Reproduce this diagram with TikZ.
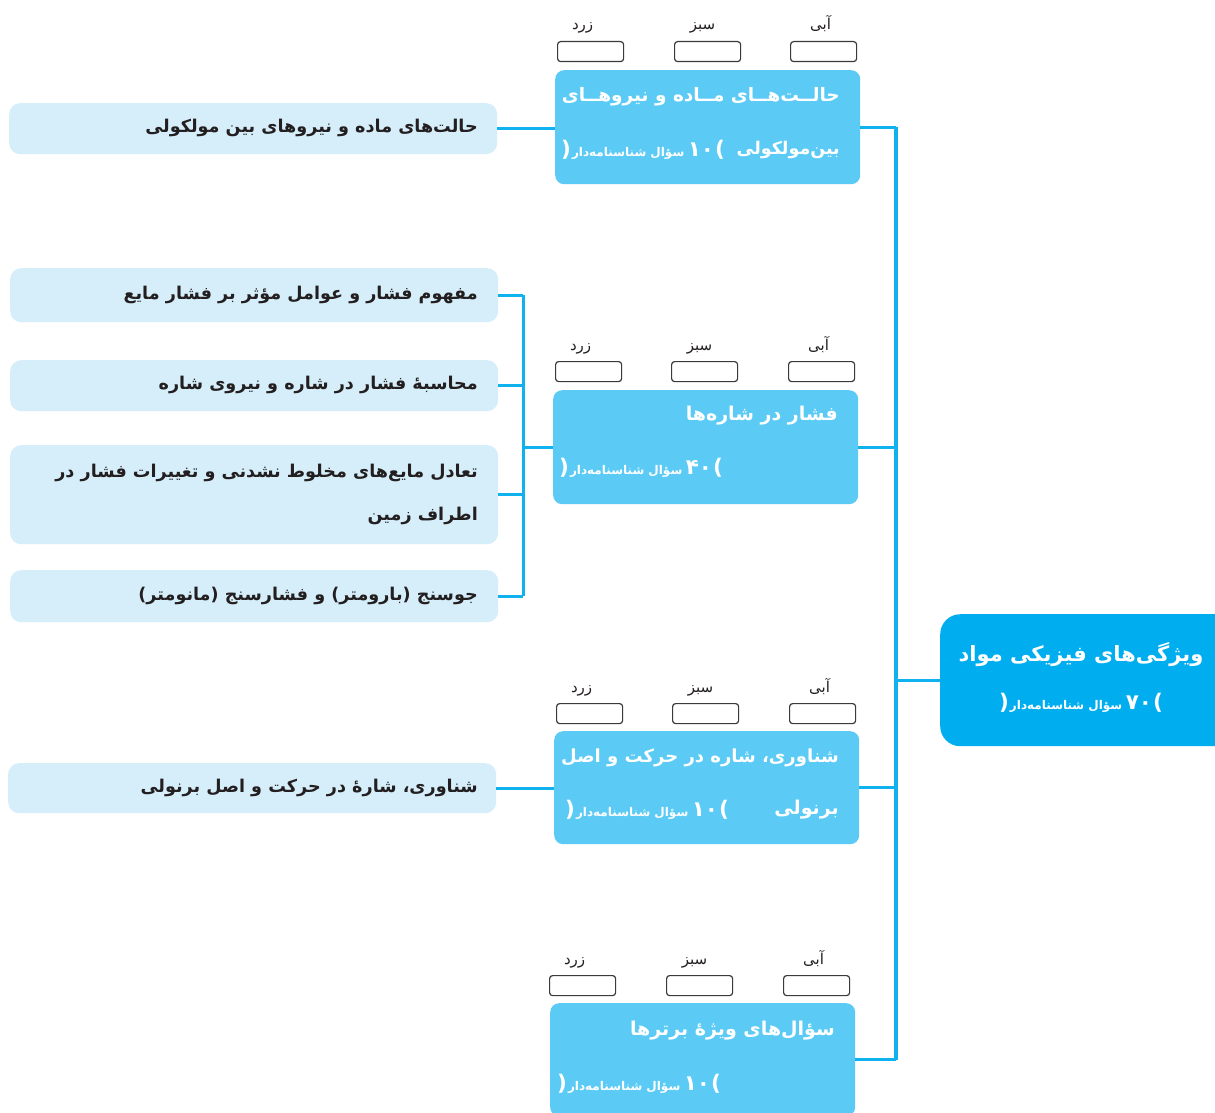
\documentclass[tikz,border=0pt]{standalone}
\usepackage{fontspec}
\newfontfamily\fa[Script=Arabic]{DejaVu Sans}
\TeXXeTstate=1
\definecolor{rootc}{HTML}{00AEEF}
\definecolor{midc}{HTML}{5BCBF5}
\definecolor{leafc}{HTML}{D6EEFA}
\definecolor{linec}{HTML}{0FB2EE}
\definecolor{textc}{HTML}{231F20}
\definecolor{tickc}{HTML}{3A3A3A}
\newcommand\rtltext[1]{\beginR#1\endR}
\newcommand\bignum[1]{{\fontsize{21.5}{22}\selectfont #1}}
\newcommand\smallq[1]{{\fontsize{12}{12}\selectfont #1}}
% count line: right paren shape on the right, left paren shape on the left
\newcommand\countline[1]{\rtltext{\bignum{)}\kern1pt\bignum{#1} \smallq{سؤال شناسنامه‌دار}\kern1pt\bignum{(}}}
\tikzset{
  conn/.style={draw=linec, line width=3pt},
  spine/.style={draw=linec, line width=3.5pt},
  rootbox/.style={fill=rootc, rounded corners=20pt, inner sep=0pt, anchor=north west},
  midbox/.style={fill=midc, rounded corners=9pt, inner sep=0pt, anchor=north west, minimum width=305pt},
  leafbox/.style={fill=leafc, rounded corners=11pt, inner sep=0pt, anchor=north west, minimum width=488pt},
  tickbox/.style={draw=tickc, fill=white, rounded corners=3pt, line width=1.2pt, minimum width=66pt, minimum height=20pt, inner sep=0pt, anchor=north west},
  lbl/.style={font=\fa\fontsize{15}{18}\selectfont, text=textc, inner sep=0pt, anchor=base},
  wtitle/.style={text=white, font=\fa\bfseries\fontsize{19}{24}\selectfont, inner sep=0pt},
  wsub/.style={text=white, font=\fa\bfseries, inner sep=0pt},
  leaftxt/.style={text=textc, font=\fa\bfseries\fontsize{17.6}{43}\selectfont, inner sep=0pt, anchor=east, align=right},
}
\newcommand\tickrow[5]{%
  \node[tickbox] (#1z) at (#3,#2) {};
  \node[tickbox] (#1s) at (#4,#2) {};
  \node[tickbox] (#1a) at (#5,#2) {};
  \node[lbl] (#1zl) at ([xshift=-8pt,yshift=11pt]#1z.north) {\rtltext{زرد}};
  \node[lbl] (#1sl) at ([xshift=-5pt,yshift=11pt]#1s.north) {\rtltext{سبز}};
  \node[lbl] (#1al) at ([xshift=-3pt,yshift=11pt]#1a.north) {\rtltext{آبی}};
}
\begin{document}
\begin{tikzpicture}[x=1pt,y=-1pt]
\useasboundingbox[fill=white] (0,0) rectangle (1215,1113);
\coordinate (sp) at (896,0);
\coordinate (br) at (523,0);

% root
\node[rootbox, minimum width=300pt, minimum height=132pt] (root) at (940,614) {};
\node[wtitle, font=\fa\bfseries\fontsize{21}{26}\selectfont] (roott) at (1081,655) {\rtltext{ویژگی‌های فیزیکی مواد}};
\node[wsub] (roots) at (1081,703) {\countline{۷۰}};

% mid boxes
\node[midbox, minimum height=114pt] (m1) at (555,70) {};
\node[midbox, minimum height=114pt] (m2) at (553,390) {};
\node[midbox, minimum height=113pt] (m3) at (554,731) {};
\node[midbox, minimum height=113pt] (m4) at (550,1003) {};

\tickrow{a}{41}{557}{674}{790}
\tickrow{b}{361}{555}{671}{788}
\tickrow{c}{703}{556}{672}{789}
\tickrow{d}{975}{549}{666}{783}

% mid box texts
\node[wtitle, anchor=east, font=\fa\bfseries\fontsize{18.5}{24}\selectfont] (m1t) at (840,97) {\rtltext{حالــت‌هــای مــاده و نیروهــای}};
\node[wtitle, anchor=east, font=\fa\bfseries\fontsize{17.5}{24}\selectfont] (m1u) at (840,150) {\rtltext{بین‌مولکولی}};
\node[wsub, anchor=west] (m1s) at (561,150) {\countline{۱۰}};

\node[wtitle, anchor=east] (m2t) at (838,416) {\rtltext{فشار در شاره‌ها}};
\node[wsub, anchor=west] (m2s) at (559,468) {\countline{۴۰}};

\node[wtitle, anchor=east, font=\fa\bfseries\fontsize{18}{24}\selectfont] (m3t) at (839,758) {\rtltext{شناوری، شاره در حرکت و اصل}};
\node[wtitle, anchor=east] (m3u) at (839,810) {\rtltext{برنولی}};
\node[wsub, anchor=west] (m3s) at (565,810) {\countline{۱۰}};

\node[wtitle, anchor=east] (m4t) at (835,1031) {\rtltext{سؤال‌های ویژهٔ برترها}};
\node[wsub, anchor=west] (m4s) at (557,1084) {\countline{۱۰}};

% leaf boxes
\node[leafbox, minimum height=51pt] (l1) at (9,103) {};
\node[leaftxt] (l1t) at (478,128) {\rtltext{حالت‌های ماده و نیروهای بین مولکولی}};

\node[leafbox, minimum height=54pt] (l2a) at (10,268) {};
\node[leaftxt] (l2at) at (478,295) {\rtltext{مفهوم فشار و عوامل مؤثر بر فشار مایع}};
\node[leafbox, minimum height=51pt] (l2b) at (10,360) {};
\node[leaftxt] (l2bt) at (478,385) {\rtltext{محاسبهٔ فشار در شاره و نیروی شاره}};
\node[leafbox, minimum height=99pt] (l2c) at (10,445) {};
\node[leaftxt] (l2ct) at (478,494) {\rtltext{تعادل مایع‌های مخلوط نشدنی و تغییرات فشار در}\\\rtltext{اطراف زمین}};
\node[leafbox, minimum height=52pt] (l2d) at (10,570) {};
\node[leaftxt] (l2dt) at (478,596) {\rtltext{جوسنج (بارومتر) و فشارسنج (مانومتر)}};

\node[leafbox, minimum height=50pt] (l3) at (8,763) {};
\node[leaftxt] (l3t) at (478,788) {\rtltext{شناوری، شارهٔ در حرکت و اصل برنولی}};

% connectors
\draw[spine] (m1.east -| sp) -- (m4.east -| sp);
\draw[conn] (m1.east) -- (m1.east -| sp);
\draw[conn] (m2.east) -- (m2.east -| sp);
\draw[conn] (m3.east) -- (m3.east -| sp);
\draw[conn] (m4.east) -- (m4.east -| sp);
\draw[conn] (root.west) -- (root.west -| sp);

\draw[conn] (l1.east) -- (l1.east -| m1.west);
\draw[conn] (l3.east) -- (l3.east -| m3.west);

\draw[conn] (l2a.east -| br) -- (l2d.east -| br);
\draw[conn] (l2a.east) -- (l2a.east -| br);
\draw[conn] (l2b.east) -- (l2b.east -| br);
\draw[conn] (l2c.east) -- (l2c.east -| br);
\draw[conn] (l2d.east) -- (l2d.east -| br);
\draw[conn] (m2.west -| br) -- (m2.west);
\end{tikzpicture}
\end{document}
